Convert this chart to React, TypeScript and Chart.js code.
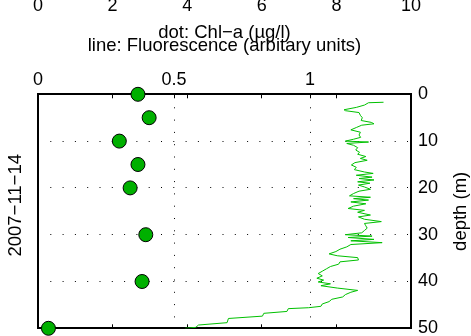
import React, { useEffect, useRef } from 'react';
import { Chart, registerables } from 'chart.js';

Chart.register(...registerables);

// ---- data ----
const CHL_DEPTHS = [0, 5, 10, 15, 20, 30, 40, 50];
const CHL_VALUES = [2.68, 2.98, 2.18, 2.68, 2.47, 2.89, 2.79, 0.28];

const FLUOR_DEPTHS = [
  1.7, 1.8, 2.3, 2.8, 3.3, 3.5, 3.9, 4.5, 5.0, 5.6, 6.0, 6.3, 6.6, 7.1, 7.6, 8.1, 8.7, 9.2, 9.6, 10.0,
  10.2, 10.5, 10.9, 11.4, 11.9, 12.4, 12.8, 13.3, 13.7, 14.1, 14.6, 15.1, 15.6, 16.1, 16.6, 16.9, 17.3,
  17.7, 18.0, 18.3, 18.7, 19.0, 19.4, 19.8, 20.3, 20.7, 21.2, 21.7, 22.0, 22.3, 22.6, 23.0, 23.4, 23.9,
  24.4, 24.8, 25.2, 25.8, 26.2, 26.7, 27.2, 27.6, 28.1, 28.6, 29.1, 29.6, 30.0, 30.3, 30.6, 31.0, 31.3,
  31.7, 32.1, 32.6, 33.1, 33.6, 34.1, 34.5, 34.9, 35.4, 35.8, 36.3, 36.8, 37.3, 37.8, 38.3, 38.8, 39.3,
  39.7, 40.1, 40.5, 40.9, 41.4, 41.9, 42.3, 42.8, 43.3, 43.8, 44.3, 44.8, 45.3, 45.6, 45.8, 46.4, 46.8,
  47.4, 47.9, 48.8, 49.3, 49.8, 50.0,
];
const FLUOR_VALUES = [
  1.270, 1.215, 1.200, 1.170, 1.125, 1.130, 1.180, 1.185, 1.192, 1.188, 1.225, 1.235, 1.190, 1.170, 1.150,
  1.185, 1.180, 1.186, 1.160, 1.130, 1.215, 1.135, 1.160, 1.175, 1.168, 1.182, 1.175, 1.205, 1.185, 1.210,
  1.165, 1.152, 1.170, 1.163, 1.200, 1.232, 1.170, 1.228, 1.180, 1.235, 1.175, 1.220, 1.178, 1.200, 1.222,
  1.180, 1.160, 1.145, 1.222, 1.160, 1.215, 1.150, 1.205, 1.160, 1.140, 1.200, 1.175, 1.222, 1.178, 1.200,
  1.262, 1.200, 1.205, 1.210, 1.200, 1.190, 1.130, 1.228, 1.140, 1.235, 1.150, 1.265, 1.150, 1.135, 1.110,
  1.095, 1.070, 1.100, 1.175, 1.178, 1.110, 1.105, 1.075, 1.060, 1.045, 1.030, 1.045, 1.025, 1.050, 1.030,
  1.075, 1.040, 1.100, 1.175, 1.150, 1.130, 1.120, 1.080, 1.070, 1.045, 1.040, 0.995, 0.920, 0.915, 0.830,
  0.825, 0.700, 0.695, 0.590, 0.580, 0.540,
];

const CHL_MIN = 0;
const CHL_MAX = 10;
const CHL_STEP = 2;
const FLUOR_MIN = 0;
const FLUOR_MAX = 1.371;
const FLUOR_LABELLED = [0, 0.5, 1];
const FLUOR_GRID = [0.5, 1];
const DEPTH_MIN = 0;
const DEPTH_MAX = 50;
const DEPTH_STEP = 10;
const DEPTH_GRID = [10, 20, 30, 40];

const TITLE_LINES = ['dot: Chl\u2212a (\u00b5g/l)', 'line: Fluorescence (arbitary units)'];
const DEPTH_TITLE = 'depth (m)';
const DATE_TITLE = '2007\u221211\u221214';

// ---- style ----
const FAMILY = '"Liberation Sans", Arial, Helvetica, sans-serif';
const FS = 18;
const TFS = 18.5;
const DOT_FILL = '#00b000';
const LINE_COLOR = '#00c000';
const DOTTED = [1, 11.3];
const CANVAS_W = 471;
const CANVAS_H = 367;
const CANVAS_TOP = -9;

const RIGHT_TITLE_LH = 18;
const RIGHT_TITLE_PAD_TOP = 1;
const LEFT_TITLE_LH = 21.6;
const LEFT_TITLE_PAD_TOP = 4.7;
const LEFT_TITLE_SHIFT = -6;

const sideTitlesPlugin = {
  id: 'sideTitles',
  afterDraw(chart: any) {
    const area = chart.chartArea;
    const ctx = chart.ctx;
    const midY = (area.top + area.bottom) / 2;
    const draw = (text: string, x: number, y: number) => {
      ctx.save();
      ctx.font = `${TFS}px ${FAMILY}`;
      ctx.fillStyle = '#000';
      ctx.textAlign = 'center';
      ctx.textBaseline = 'middle';
      ctx.translate(x, y);
      ctx.rotate(-Math.PI / 2);
      ctx.fillText(text, 0, 0);
      ctx.restore();
    };
    const r = chart.scales.y;
    draw(DEPTH_TITLE, r.right - (RIGHT_TITLE_LH / 2 + RIGHT_TITLE_PAD_TOP), midY);
    const l = chart.scales.yL;
    draw(DATE_TITLE, l.left + LEFT_TITLE_PAD_TOP + LEFT_TITLE_LH / 2, midY + LEFT_TITLE_SHIFT);
  },
};

export default function App() {
  const ref = useRef<HTMLCanvasElement>(null);

  useEffect(() => {
    if (!ref.current) return;
    const chlTickValues: number[] = [];
    for (let c = CHL_MIN; c <= CHL_MAX + 1e-9; c += CHL_STEP) chlTickValues.push(c);
    const fluorTicks = Array.from(
      new Set([
        ...FLUOR_LABELLED,
        ...chlTickValues.map((c) => ((c - CHL_MIN) / (CHL_MAX - CHL_MIN)) * (FLUOR_MAX - FLUOR_MIN) + FLUOR_MIN),
      ])
    ).sort((a, b) => a - b);

    const chart = new Chart(ref.current, {
      type: 'scatter',
      data: {
        datasets: [
          {
            label: 'Chl-a',
            data: CHL_DEPTHS.map((d, i) => ({ x: CHL_VALUES[i], y: d })),
            xAxisID: 'xChl',
            yAxisID: 'y',
            pointRadius: 7,
            pointBackgroundColor: DOT_FILL,
            pointBorderColor: '#000',
            pointBorderWidth: 1,
            showLine: false,
            clip: false as any,
          },
          {
            label: 'Fluorescence',
            data: FLUOR_DEPTHS.map((d, i) => ({ x: FLUOR_VALUES[i], y: d })),
            xAxisID: 'xFluor',
            yAxisID: 'y',
            showLine: true,
            pointRadius: 0,
            borderColor: LINE_COLOR,
            borderWidth: 1,
            fill: false,
            tension: 0,
          },
        ],
      },
      options: {
        responsive: false,
        animation: false,
        devicePixelRatio: 1,
        events: [],
        layout: { autoPadding: false, padding: { top: 0, left: 0, right: 0, bottom: 29.7 } },
        plugins: {
          legend: { display: false },
          title: { display: false },
          tooltip: { enabled: false },
        },
        scales: {
          xChl: {
            type: 'linear',
            position: 'top',
            weight: 10,
            min: CHL_MIN,
            max: CHL_MAX,
            ticks: {
              stepSize: CHL_STEP,
              color: '#000',
              font: { family: FAMILY, size: FS },
              padding: 4,
              maxRotation: 0,
            },
            grid: { display: false, drawTicks: false },
            border: { display: false },
          },
          xFluor: {
            type: 'linear',
            position: 'top',
            weight: 5,
            z: 1,
            min: FLUOR_MIN,
            max: FLUOR_MAX,
            afterBuildTicks: (scale: any) => {
              scale.ticks = fluorTicks.map((v) => ({ value: v }));
            },
            ticks: {
              autoSkip: false,
              maxRotation: 0,
              color: '#000',
              font: { family: FAMILY, size: FS },
              padding: 7,
              callback: (v: any) => {
                const n = Number(v);
                return FLUOR_LABELLED.some((l) => Math.abs(l - n) < 1e-9) ? String(n) : '';
              },
            },
            grid: {
              tickLength: -4,
              tickColor: '#000',
              tickWidth: 1,
              lineWidth: 1,
              color: (ctx: any) =>
                ctx.tick && FLUOR_GRID.some((g) => Math.abs(g - ctx.tick.value) < 1e-9) ? '#000' : 'rgba(0,0,0,0)',
            },
            border: { display: true, color: '#000', width: 2, dash: DOTTED },
            title: {
              display: true,
              text: TITLE_LINES,
              color: '#000',
              font: { family: FAMILY, size: TFS, lineHeight: '13.4px' },
              padding: { top: 5.3, bottom: 10 },
            },
          },
          xB: {
            type: 'linear',
            position: 'bottom',
            min: CHL_MIN,
            max: CHL_MAX,
            ticks: { display: false, stepSize: CHL_STEP },
            grid: {
              drawOnChartArea: false,
              tickLength: -4,
              tickColor: '#000',
              tickWidth: 1,
              color: '#000',
            },
            border: { display: true, color: '#000', width: 2 },
          },
          y: {
            type: 'linear',
            position: 'right',
            reverse: true,
            min: DEPTH_MIN,
            max: DEPTH_MAX,
            ticks: {
              stepSize: DEPTH_STEP,
              color: '#000',
              font: { family: FAMILY, size: FS },
              padding: 7,
            },
            grid: {
              drawTicks: false,
              lineWidth: 1,
              color: (ctx: any) =>
                ctx.tick && DEPTH_GRID.includes(ctx.tick.value) ? '#000' : 'rgba(0,0,0,0)',
            },
            border: { display: true, color: '#000', width: 2, dash: DOTTED },
            title: {
              display: true,
              text: DEPTH_TITLE,
              color: 'rgba(0,0,0,0)',
              font: { family: FAMILY, size: TFS, lineHeight: `${RIGHT_TITLE_LH}px` },
              padding: { top: RIGHT_TITLE_PAD_TOP, bottom: 7 },
            },
          },
          yL: {
            type: 'linear',
            position: 'left',
            reverse: true,
            min: DEPTH_MIN,
            max: DEPTH_MAX,
            ticks: { display: false },
            grid: { display: false, drawTicks: false },
            border: { display: true, color: '#000', width: 2 },
            title: {
              display: true,
              text: DATE_TITLE,
              color: 'rgba(0,0,0,0)',
              font: { family: FAMILY, size: TFS, lineHeight: `${LEFT_TITLE_LH}px` },
              padding: { top: LEFT_TITLE_PAD_TOP, bottom: 11.7 },
            },
          },
        },
      } as any,
      plugins: [sideTitlesPlugin],
    });
    return () => chart.destroy();
  }, []);

  return (
    <div style={{ position: 'fixed', left: 0, top: 0, width: CANVAS_W, height: 336, overflow: 'hidden', background: '#fff' }}>
      <canvas
        ref={ref}
        width={CANVAS_W}
        height={CANVAS_H}
        style={{ position: 'absolute', left: 0, top: CANVAS_TOP, width: CANVAS_W, height: CANVAS_H }}
      />
    </div>
  );
}
